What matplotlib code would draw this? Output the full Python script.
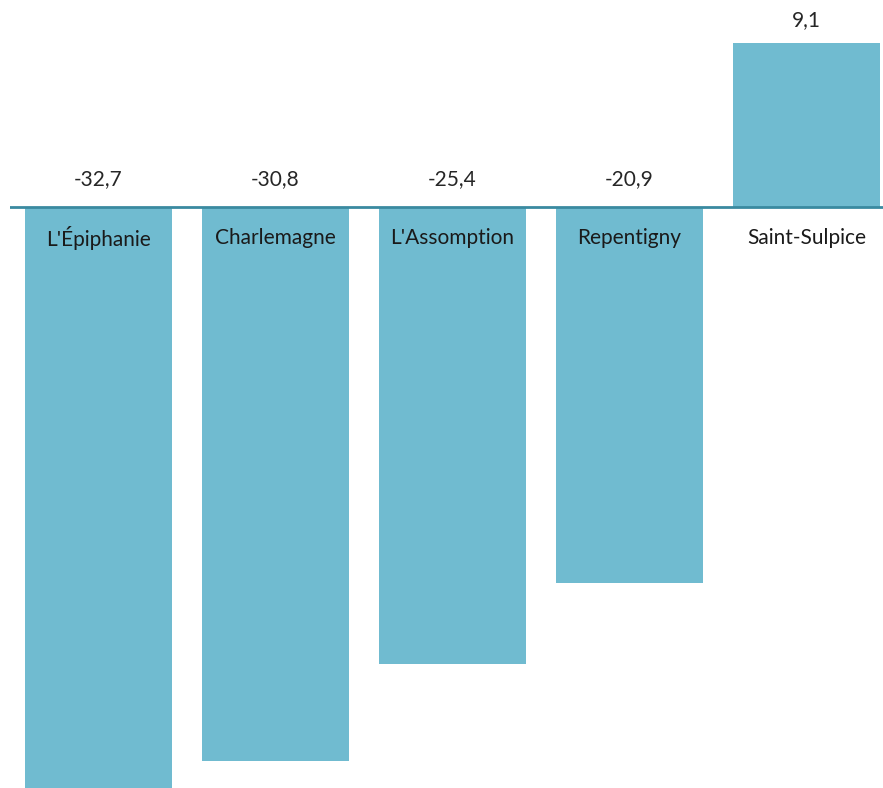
import numpy as np
import matplotlib.pyplot as plt

plt.rcParams['font.family'] = ['Lato', 'DejaVu Sans']

villes = ["L'Épiphanie", "Charlemagne", "L'Assomption", "Repentigny", "Saint-Sulpice"]
valeurs = [-32.7, -30.8, -25.4, -20.9, 9.1]

fig = plt.figure(figsize=(8.83, 7.88), dpi=100)
ax = fig.add_axes([10 / 883, 0, 873 / 883, 1])

x = np.arange(len(villes))
ax.bar(x, valeurs, width=0.835, color='#70bbd0', zorder=1)
ax.axhline(0, color='#3a8aa0', lw=2, zorder=2)

for i, (v, nom) in enumerate(zip(valeurs, villes)):
    txt = ('%.1f' % v).replace('.', ',')
    if v < 0:
        ax.text(i, 1.0, txt, ha='center', va='bottom', fontsize=15, color='#262626')
    else:
        ax.text(i, v + 0.7, txt, ha='center', va='bottom', fontsize=15, color='#262626')
    ax.text(i, -1.75, nom, ha='center', va='center', fontsize=15, color='#1a1a1a')

ax.set_xlim(-0.5, (883 - 98.5) / 177)
ax.set_ylim(-32.3, 11.5)
ax.axis('off')

fig.savefig('out.png', dpi=100)
